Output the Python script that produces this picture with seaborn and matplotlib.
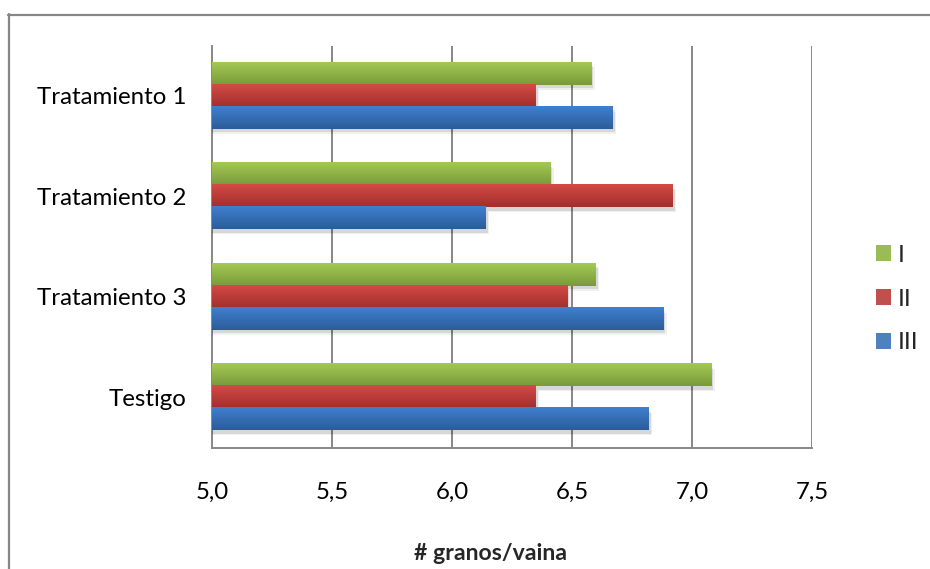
import numpy as np
import pandas as pd
import matplotlib
matplotlib.use("Agg")
import matplotlib.pyplot as plt
import matplotlib.patheffects as pe
from matplotlib.colors import to_rgb
from matplotlib.lines import Line2D
from matplotlib.patches import Rectangle
import seaborn as sns

# Grain count per pod for each treatment and replicate
categories = ["Tratamiento 1", "Tratamiento 2", "Tratamiento 3", "Testigo"]
series_names = ["I", "II", "III"]
serie_I = [6.58, 6.41, 6.60, 7.08]
serie_II = [6.35, 6.92, 6.48, 6.35]
serie_III = [6.67, 6.14, 6.88, 6.82]
x_ticks = [5.0, 5.5, 6.0, 6.5, 7.0, 7.5]
x_tick_labels = ["5,0", "5,5", "6,0", "6,5", "7,0", "7,5"]
x_label = "# granos/vaina"

df = pd.DataFrame({
    "categoria": categories * 3,
    "serie": [s for s in series_names for _ in categories],
    "valor": serie_I + serie_II + serie_III,
})

base_colors = {"I": "#9BBB59", "II": "#C0504D", "III": "#4F81BD"}
grad = {
    "I": ("#A3C954", "#7A9A3B"),
    "II": ("#D44A46", "#A22F2C"),
    "III": ("#3F80D0", "#2C5C98"),
}

sns.set_style("white")
plt.rcParams["font.family"] = ["Lato", "DejaVu Sans"]
FS = 17.3

fig = plt.figure(figsize=(9.30, 5.69), dpi=100)
W, H = 930, 569
ax = fig.add_axes([212 / W, 1 - 447.5 / H, 600 / W, 402 / H])

sns.barplot(data=df, y="categoria", x="valor", hue="serie", order=categories,
            hue_order=series_names, palette=base_colors, orient="h",
            width=0.66, ax=ax, legend=False, saturation=1, zorder=3)

ax.set_xlim(5.0, 7.5)
ax.set_ylim(3.5, -0.5)

# shadows and vertical colour gradient on each bar
shadow = [pe.SimplePatchShadow(offset=(1.5, -2.5), shadow_rgbFace="#000000", alpha=0.10),
          pe.SimplePatchShadow(offset=(2.5, -3.5), shadow_rgbFace="#000000", alpha=0.06),
          pe.Normal()]
bars = list(ax.patches)
for i, bar in enumerate(bars):
    name = series_names[i // len(categories)]
    bar.set_path_effects(shadow)
    bar.set_edgecolor("none")
    top, bottom = grad[name]
    c0, c1 = np.array(to_rgb(top)), np.array(to_rgb(bottom))
    t = np.linspace(0, 1, 64)[:, None]
    img = (c0 * (1 - t) + c1 * t)[:, None, :]
    x0 = bar.get_x()
    x1 = x0 + bar.get_width()
    y0 = bar.get_y()
    y1 = y0 + bar.get_height()
    ax.imshow(img, extent=(max(x0, 5.0), x1, y1, y0), origin="upper",
              aspect="auto", interpolation="bilinear", zorder=4)
ax.set_xlim(5.0, 7.5)
ax.set_ylim(3.5, -0.5)

grid_c = "#878787"
for xv in x_ticks[1:]:
    ax.axvline(xv, color=grid_c, lw=1.4, zorder=1)

for s in ["top", "right"]:
    ax.spines[s].set_visible(False)
for s in ["left", "bottom"]:
    ax.spines[s].set_color(grid_c)
    ax.spines[s].set_linewidth(1.4)

ax.set_xticks(x_ticks)
ax.set_xticklabels(x_tick_labels, fontsize=FS, color="#000000")
ax.tick_params(axis="x", direction="out", length=5.5, width=1.1, color=grid_c, pad=19)
ax.set_yticks(range(len(categories)))
ax.set_yticklabels(categories, fontsize=FS, color="#000000")
ax.tick_params(axis="y", which="major", length=0, pad=18.5)
ax.set_yticks(np.arange(-0.5, len(categories), 1.0), minor=True)
ax.tick_params(axis="y", which="minor", direction="out", length=6.5, width=1.1, color=grid_c)
ax.set_ylabel("")
ax.set_xlabel("")

fig.text(490 / W, 1 - 553 / H, x_label, fontsize=16.6, fontweight="bold",
         ha="center", va="center")

handles = [Rectangle((0, 0), 1, 1, facecolor=base_colors[n], edgecolor="none")
           for n in series_names]
fig.legend(handles, series_names, loc="center left",
           bbox_to_anchor=(876 / W, 1 - 299 / H), frameon=False, fontsize=FS,
           handlelength=0.62, handleheight=0.62, handletextpad=0.3,
           labelspacing=0.95, borderpad=0, borderaxespad=0)

# chart frame
fig.add_artist(Line2D([8.5 / W, 8.5 / W], [1 - 14 / H, 0], transform=fig.transFigure,
                      color="#868686", lw=1.6))
fig.add_artist(Line2D([8 / W, 1], [1 - 14.5 / H, 1 - 14.5 / H], transform=fig.transFigure,
                      color="#868686", lw=1.6))

fig.savefig("out.png", dpi=100)
